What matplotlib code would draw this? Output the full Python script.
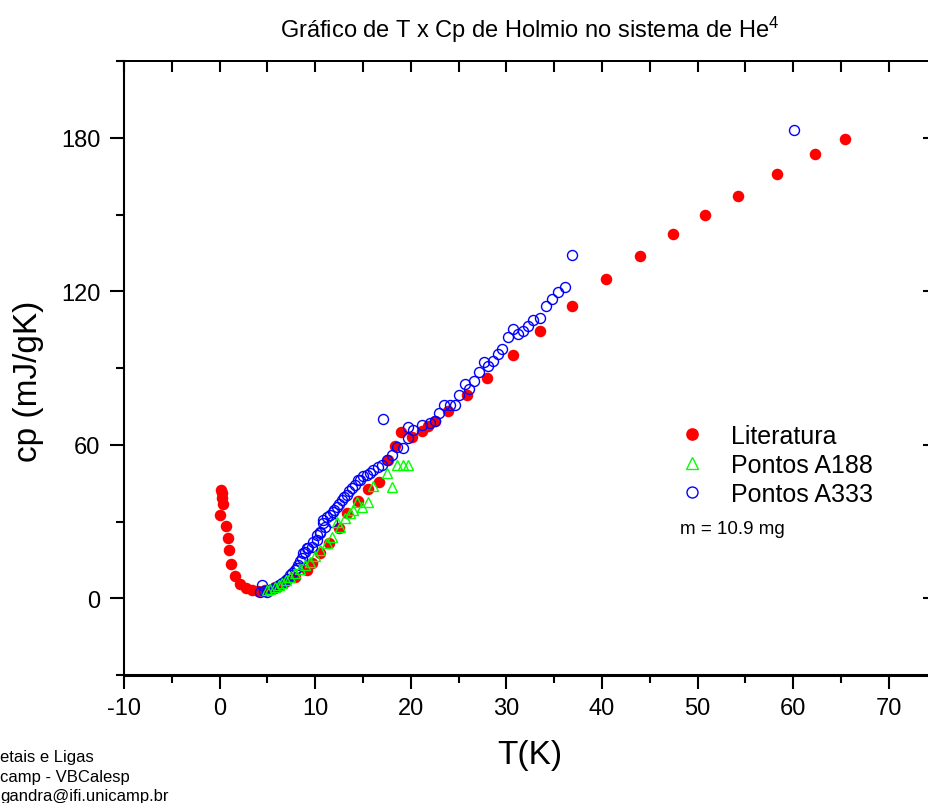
import matplotlib
matplotlib.use("Agg")
import matplotlib.pyplot as plt
from matplotlib.ticker import MultipleLocator, FixedLocator

plt.rcParams['font.family'] = ['Liberation Sans', 'DejaVu Sans']
plt.rcParams['mathtext.fontset'] = 'custom'
plt.rcParams['mathtext.rm'] = 'Liberation Sans'
plt.rcParams['mathtext.default'] = 'rm'
plt.rcParams['axes.unicode_minus'] = False

# Literatura (filled red circles)
lit_T = [0.04, 0.15, 0.22, 0.30, 0.40, 0.67, 0.88, 0.98, 1.19, 1.61, 2.13, 2.76,
         3.39, 4.0, 4.75, 5.8, 6.84, 7.88, 9.11, 9.63, 10.5, 11.4, 12.52, 13.29,
         14.51, 15.55, 16.67, 17.65, 18.35, 18.94, 20.09, 21.14, 21.83, 22.53,
         23.86, 25.85, 28.0, 30.66, 33.51, 36.86, 40.42, 43.94, 47.46, 50.74,
         54.19, 58.33, 62.25, 65.38]
lit_cp = [32.5, 42.4, 41.0, 39.0, 36.8, 28.2, 23.5, 18.8, 13.3, 8.6, 5.5, 3.9,
          3.1, 2.7, 3.1, 4.4, 6.4, 8.4, 11.0, 13.6, 17.5, 21.5, 27.6, 33.5,
          38.2, 42.6, 45.6, 54.1, 59.7, 65.0, 63.0, 65.2, 67.2, 69.1,
          73.1, 79.3, 86.2, 94.9, 104.4, 114.2, 124.8, 133.7, 142.4, 149.8,
          157.4, 165.9, 173.8, 179.7]

# Pontos A188 (open green triangles)
a188_T = [4.93, 5.3, 5.8, 6.2, 6.5, 6.9, 7.36, 7.9, 8.41, 8.9, 9.46, 10.0,
          10.5, 11.2, 11.73, 12.24, 12.6, 13.12, 13.6, 14.0, 14.34, 14.86,
          15.55, 16.07, 17.54, 18.06, 18.58, 19.2, 19.74]
a188_cp = [3.1, 3.5, 4.4, 5.0, 5.8, 7.0, 8.4, 10.0, 11.6, 13.0, 14.2, 16.5,
           18.8, 21.5, 24.0, 29.9, 28.0, 31.5, 33.5, 34.5, 37.8, 35.8,
           37.8, 43.9, 48.9, 43.3, 51.9, 52.2, 52.2]

# Pontos A333 (open blue circles)
a333_T = [4.23, 4.4, 4.6, 4.93, 5.2, 5.44, 5.7, 5.97, 6.2, 6.5, 6.8, 7.02,
          7.36, 7.6, 7.89, 8.1, 8.23, 8.4, 8.58, 8.76, 8.93, 9.11, 9.28, 9.63,
          9.8, 10.15, 10.15, 10.5, 10.5, 10.85, 10.85, 11.03, 11.2, 11.5, 11.72,
          11.88, 12.0, 12.24, 12.5, 12.76, 13.0, 13.29, 13.5, 13.82, 14.16,
          14.5, 14.69, 15.03, 15.4, 15.73, 16.07, 16.6, 16.96, 17.12, 17.54,
          18.0, 18.52, 19.14, 19.74, 19.74, 20.26, 21.14, 22.0, 22.53, 22.97,
          23.5, 24.1, 24.62, 25.07, 25.67, 26.12, 26.65, 27.17, 27.63, 28.1,
          28.63, 29.15, 29.57, 30.13, 30.66, 31.18, 31.7, 32.23, 32.81, 33.51,
          34.11, 34.8, 35.43, 36.13, 36.86, 60.08]
a333_cp = [2.5, 5.1, 3.0, 2.5, 3.2, 3.8, 4.0, 4.4, 5.0, 5.8, 6.8, 7.7,
           9.0, 10.0, 11.0, 12.0, 12.9, 14.5, 15.6, 17.5, 18.2, 19.5, 19.5, 20.1,
           22.1, 22.7, 24.7, 25.4, 26.0, 29.3, 30.6, 28.0, 31.9, 32.5, 29.9,
           33.8, 34.5, 35.8, 37.0, 38.4, 39.5, 40.4, 42.0, 43.0, 44.3,
           46.3, 46.3, 47.6, 48.0, 48.9, 50.2, 51.3, 52.2, 70.2, 54.1,
           56.1, 59.3, 58.7, 62.6, 66.9, 65.9, 67.8, 68.5, 69.1, 72.4,
           75.4, 75.7, 75.7, 79.6, 83.8, 81.6, 84.8, 88.4, 92.3, 90.7,
           92.7, 95.3, 97.3, 102.0, 105.1, 103.3, 104.4, 106.4, 108.6, 109.5,
           114.2, 116.9, 119.7, 121.5, 134.2, 182.9]

W, H = 929, 804
fig = plt.figure(figsize=(W / 100, H / 100), dpi=100)
ax = fig.add_axes([124 / W, 1 - 676 / H, 812.6 / W, 614 / H])

h_lit, = ax.plot(lit_T, lit_cp, 'o', color='#ff0000', markersize=8.3,
                 markeredgewidth=0, label='Literatura')
h_333, = ax.plot(a333_T, a333_cp, 'o', mfc='none', mec='#0000ff', markersize=7.2,
                 markeredgewidth=1, label='Pontos A333')
h_188, = ax.plot(a188_T, a188_cp, '^', mfc='none', mec='#00ff00', markersize=7.5,
                 markeredgewidth=1, label='Pontos A188')

ax.set_xlim(-10, 75)
ax.set_ylim(-30, 210)

ax.xaxis.set_major_locator(FixedLocator(range(-10, 71, 10)))
ax.xaxis.set_minor_locator(MultipleLocator(5))
ax.yaxis.set_major_locator(FixedLocator([0, 60, 120, 180]))
ax.yaxis.set_minor_locator(MultipleLocator(30))

ax.tick_params(axis='both', which='major', direction='out', labelsize=17,
               width=1.5, length=10, top=False, right=False)
ax.tick_params(axis='both', which='minor', direction='out', width=1.5,
               length=6, top=False, right=False)
ax.tick_params(axis='x', which='major', pad=6)
ax.tick_params(axis='y', which='major', pad=7)

ax.spines['left'].set_linewidth(1.5)
ax.spines['bottom'].set_linewidth(2.2)
ax.spines['top'].set_linewidth(1.3)
ax.spines['right'].set_linewidth(1.3)

# top and right axes carry inward ticks, no labels
top = ax.secondary_xaxis('top')
top.xaxis.set_major_locator(FixedLocator(range(-10, 71, 10)))
top.xaxis.set_minor_locator(MultipleLocator(5))
top.tick_params(which='both', direction='in', length=8, width=1.5, labeltop=False)
top.spines['top'].set_linewidth(1.3)

right = ax.secondary_yaxis('right')
right.yaxis.set_major_locator(FixedLocator([0, 60, 120, 180]))
right.yaxis.set_minor_locator(FixedLocator([]))
right.tick_params(which='major', direction='in', length=10, width=1.5, labelright=False)

ax.set_xlabel('T(K)', fontsize=24)
ax.xaxis.set_label_coords(0.5, -0.105)
ax.set_ylabel('cp (mJ/gK)', fontsize=24)
ax.yaxis.set_label_coords(-0.099, 0.48)

fig.text(530 / W, 1 - 30 / H, 'Gráfico de T x Cp de Holmio no sistema de He$^4$',
         fontsize=17, ha='center', va='center')

ax.legend(handles=[h_lit, h_188, h_333], loc='upper left',
          bbox_to_anchor=(680 / W, 1 - 425 / H), bbox_transform=fig.transFigure,
          frameon=False, fontsize=18, handlelength=1.0, handletextpad=1.05,
          labelspacing=0.2, borderpad=0, borderaxespad=0, markerscale=1.1)

fig.text(680 / W, 1 - 530 / H, 'm = 10.9 mg', fontsize=13.5, ha='left', va='center')

fig.text(0, 1 - 762 / H, 'etais e Ligas', fontsize=12, ha='left', va='baseline')
fig.text(0, 1 - 782 / H, 'camp - VBCalesp', fontsize=12, ha='left', va='baseline')
fig.text(0, 1 - 801 / H, 'gandra@ifi.unicamp.br', fontsize=12, ha='left', va='baseline')

fig.savefig('out.png', dpi=100)
